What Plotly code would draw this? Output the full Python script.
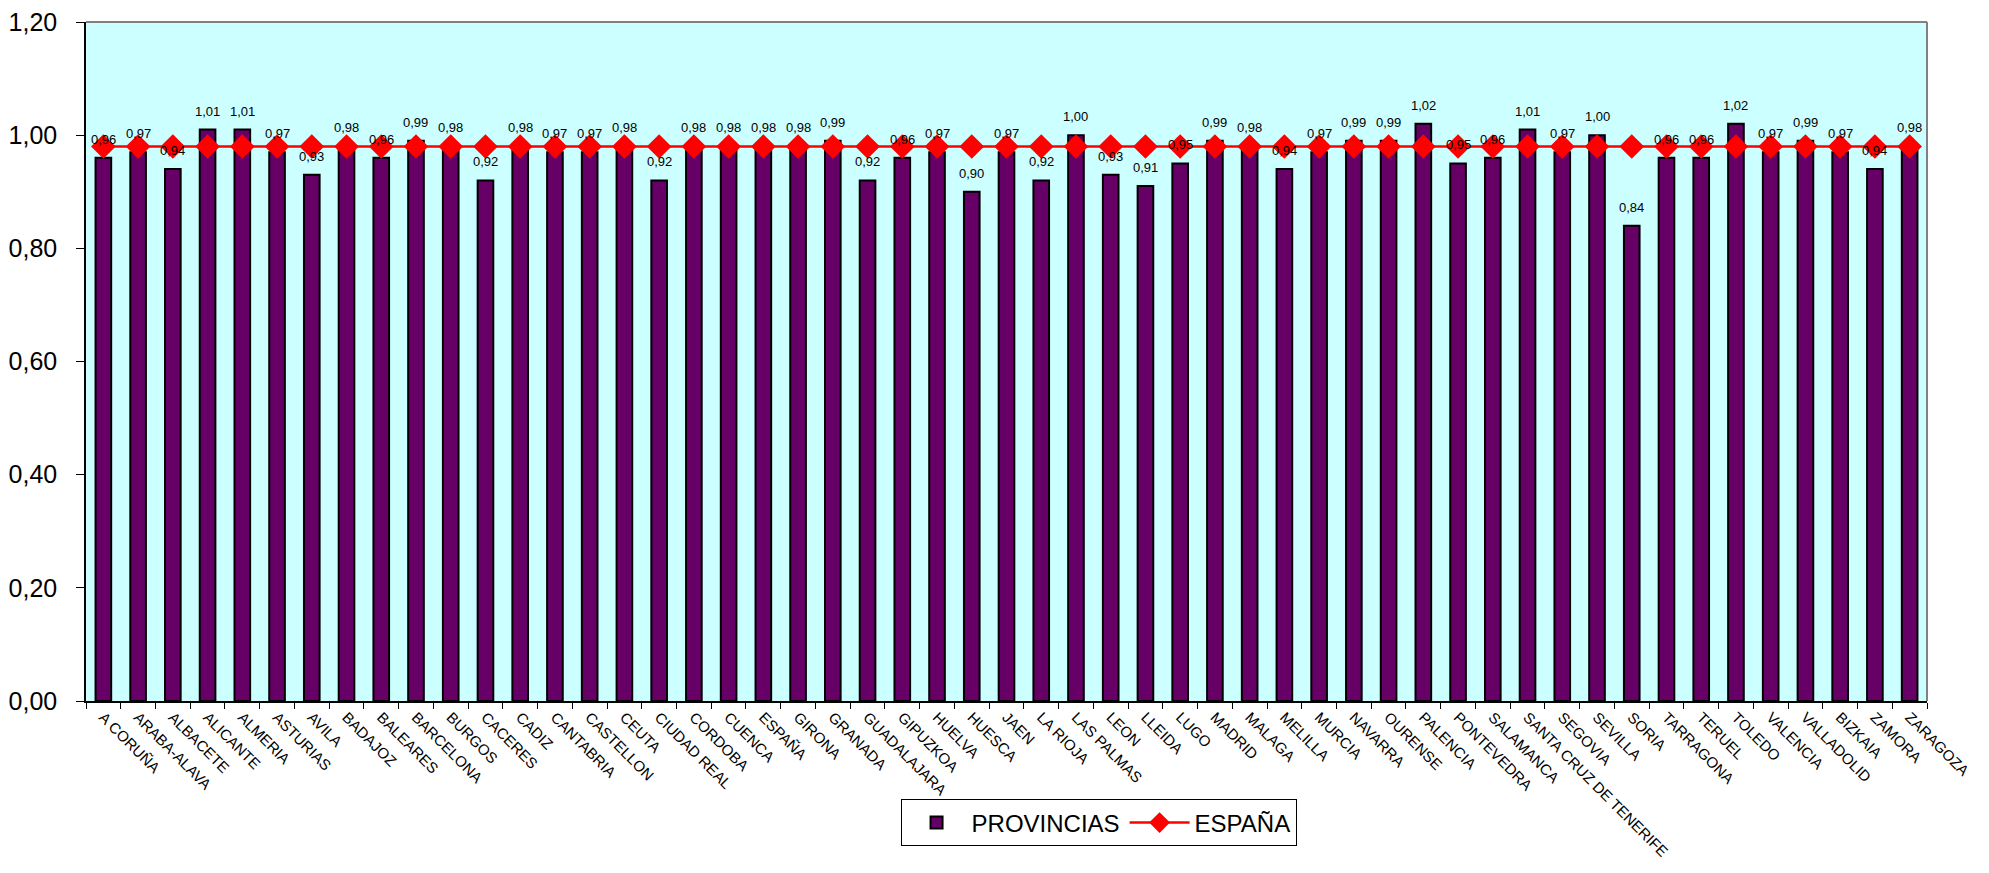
import plotly.graph_objects as go

# Categories (provinces) in chart order
provincias = [
    "A CORUÑA", "ARABA-ALAVA", "ALBACETE", "ALICANTE", "ALMERIA", "ASTURIAS",
    "AVILA", "BADAJOZ", "BALEARES", "BARCELONA", "BURGOS", "CACERES", "CADIZ",
    "CANTABRIA", "CASTELLON", "CEUTA", "CIUDAD REAL", "CORDOBA", "CUENCA",
    "ESPAÑA", "GIRONA", "GRANADA", "GUADALAJARA", "GIPUZKOA", "HUELVA",
    "HUESCA", "JAEN", "LA RIOJA", "LAS PALMAS", "LEON", "LLEIDA", "LUGO",
    "MADRID", "MALAGA", "MELILLA", "MURCIA", "NAVARRA", "OURENSE", "PALENCIA",
    "PONTEVEDRA", "SALAMANCA", "SANTA CRUZ DE TENERIFE", "SEGOVIA", "SEVILLA",
    "SORIA", "TARRAGONA", "TERUEL", "TOLEDO", "VALENCIA", "VALLADOLID",
    "BIZKAIA", "ZAMORA", "ZARAGOZA",
]

valores_provincias = [
    0.96, 0.97, 0.94, 1.01, 1.01, 0.97,
    0.93, 0.98, 0.96, 0.99, 0.98, 0.92, 0.98,
    0.97, 0.97, 0.98, 0.92, 0.98, 0.98,
    0.98, 0.98, 0.99, 0.92, 0.96, 0.97,
    0.90, 0.97, 0.92, 1.00, 0.93, 0.91, 0.95,
    0.99, 0.98, 0.94, 0.97, 0.99, 0.99, 1.02,
    0.95, 0.96, 1.01, 0.97, 1.00,
    0.84, 0.96, 0.96, 1.02, 0.97, 0.99,
    0.97, 0.94, 0.98,
]

valores_espana = [
    0.98, 0.98, 0.98, 0.98, 0.98, 0.98,
    0.98, 0.98, 0.98, 0.98, 0.98, 0.98, 0.98,
    0.98, 0.98, 0.98, 0.98, 0.98, 0.98,
    0.98, 0.98, 0.98, 0.98, 0.98, 0.98,
    0.98, 0.98, 0.98, 0.98, 0.98, 0.98, 0.98,
    0.98, 0.98, 0.98, 0.98, 0.98, 0.98, 0.98,
    0.98, 0.98, 0.98, 0.98, 0.98,
    0.98, 0.98, 0.98, 0.98, 0.98, 0.98,
    0.98, 0.98, 0.98,
]

y_ticks = [0.0, 0.2, 0.4, 0.6, 0.8, 1.0, 1.2]

FONT = "Liberation Sans, Arial, sans-serif"

fig = go.Figure()

fig.add_trace(go.Bar(
    x=provincias,
    y=valores_provincias,
    name="PROVINCIAS",
    marker=dict(color="#660066", line=dict(color="black", width=2)),
))

fig.add_trace(go.Scatter(
    x=provincias,
    y=valores_espana,
    name="ESPAÑA",
    mode="lines+markers",
    line=dict(color="#FF0000", width=2.5),
    marker=dict(symbol="diamond", size=19, color="#FF0000"),
))

# data labels above the bars
for cat, val in zip(provincias, valores_provincias):
    fig.add_annotation(
        x=cat, y=val, text=f"{val:.2f}".replace(".", ","),
        showarrow=False, yanchor="bottom", yshift=9,
        font=dict(family=FONT, size=13, color="black"),
    )

# grey plot-area border on top and right (Excel style)
fig.add_shape(type="line", xref="paper", yref="paper", x0=0, x1=1, y0=1, y1=1,
              line=dict(color="#808080", width=2), layer="above")
fig.add_shape(type="line", xref="paper", yref="paper", x0=1, x1=1, y0=0, y1=1,
              line=dict(color="#808080", width=2), layer="above")

# page body has an 8px margin, so the figure is a bit smaller than the window
fig.update_layout(
    width=1981, height=865,
    margin=dict(l=78, r=62, t=14, b=172),
    paper_bgcolor="white",
    plot_bgcolor="#CCFFFF",
    separators=",.",
    bargap=0.55,
    font=dict(family=FONT, color="black"),
    showlegend=True,
    legend=dict(
        orientation="h",
        x=0.55, xanchor="center",
        y=-0.145, yanchor="top",
        font=dict(family=FONT, size=24, color="black"),
        bordercolor="black", borderwidth=1,
        bgcolor="white",
        itemwidth=60,
    ),
)

fig.update_xaxes(
    type="category",
    range=[-0.5, len(provincias) - 0.5],
    automargin=False,
    tickangle=45,
    tickfont=dict(family=FONT, size=15, color="black"),
    showline=True, linecolor="black", linewidth=1.5,
    ticks="outside", tickson="boundaries", ticklen=6, tickcolor="black",
    showgrid=False,
)

fig.update_yaxes(
    range=[0, 1.2],
    automargin=False,
    ticklabeloverflow="allow",
    tickvals=y_ticks,
    tickformat=".2f",
    tickfont=dict(family=FONT, size=25, color="black"),
    ticklabelstandoff=14,
    showline=True, linecolor="black", linewidth=1.5,
    ticks="outside", ticklen=8, tickcolor="black",
    showgrid=False, zeroline=False,
)

fig.write_html("out.html")
